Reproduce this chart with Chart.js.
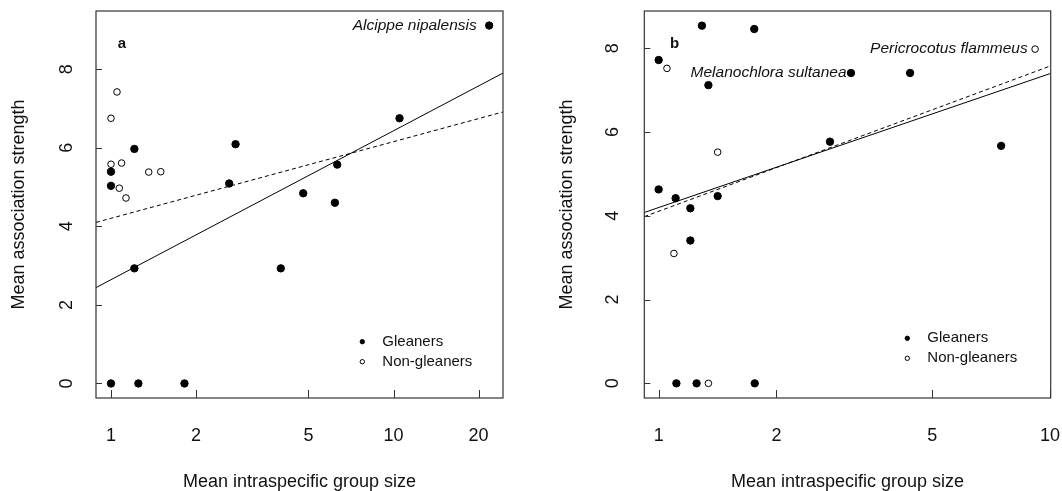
<!DOCTYPE html>
<html>
<head>
<meta charset="utf-8">
<script src="https://cdn.jsdelivr.net/npm/chart.js@4.4.1/dist/chart.umd.min.js"></script>
<style>
  body { margin: 0; background: #fff; }
  #wrap { position: relative; width: 1062px; height: 491px; }
  .panel { position: absolute; top: 0; width: 531px; height: 491px; }
</style>
</head>
<body>
<div id="wrap">
  <div class="panel" style="left:0"><canvas id="chartA" width="531" height="491"></canvas></div>
  <div class="panel" style="left:531px"><canvas id="chartB" width="531" height="491"></canvas></div>
</div>
<script>
// ---- panel a ----
const gleanersAX = [21.8, 10.5, 1.21, 2.76, 1.0, 6.32, 1.0, 2.62, 4.79, 6.20, 1.21, 3.99, 1.0, 1.25, 1.82];
const gleanersAY = [9.11, 6.75, 5.97, 6.09, 5.39, 5.57, 5.03, 5.09, 4.84, 4.60, 2.93, 2.93, 0, 0, 0];
const nonGleanersAX = [1.05, 1.0, 1.0, 1.09, 1.36, 1.50, 1.07, 1.13];
const nonGleanersAY = [7.42, 6.75, 5.58, 5.61, 5.38, 5.39, 4.97, 4.72];
const fitAX = [0.885, 24.4];
const solidAY = [2.44, 7.90];
const dashedAY = [4.10, 6.91];
const xTicksA = [1, 2, 5, 10, 20];
const labelTextA = ['Alcippe nipalensis'];
const labelXA = [19.7];
const labelYA = [9.11];

// ---- panel b ----
const gleanersBX = [1.29, 1.755, 1.0, 3.10, 4.39, 1.34, 2.74, 7.50, 1.0, 1.105, 1.415, 1.205, 1.205, 1.11, 1.25, 1.76];
const gleanersBY = [8.54, 8.46, 7.72, 7.41, 7.41, 7.12, 5.77, 5.67, 4.63, 4.42, 4.47, 4.18, 3.41, 0, 0, 0];
const nonGleanersBX = [1.05, 9.16, 1.415, 1.094, 1.34];
const nonGleanersBY = [7.52, 7.98, 5.52, 3.10, 0];
const fitBX = [0.919, 10.04];
const solidBY = [4.08, 7.40];
const dashedBY = [3.98, 7.58];
const xTicksB = [1, 2, 5, 10];
const labelTextB = ['Melanochlora sultanea', 'Pericrocotus flammeus'];
const labelXB = [3.02, 8.77];
const labelYB = [7.41, 7.98];

const yTicks = [0, 2, 4, 6, 8];
const seriesNames = ['Gleaners', 'Non-gleaners'];

const INK = '#111';
const FONT = "'Liberation Sans', Arial, sans-serif";

function pts(xs, ys) {
  return xs.map((x, i) => ({ x: x, y: ys[i] }));
}

// box, inward ticks, panel letter, species labels, legend
const framePlugin = {
  id: 'frame',
  afterDraw(chart, args, o) {
    const ctx = chart.ctx;
    const a = chart.chartArea;
    const xs = chart.scales.x, ys = chart.scales.y;
    ctx.save();
    ctx.strokeStyle = '#333';
    ctx.lineWidth = 1.2;
    ctx.strokeRect(a.left, a.top, a.right - a.left, a.bottom - a.top);
    ctx.lineWidth = 1;
    ctx.beginPath();
    xs.ticks.forEach(t => {
      const px = Math.round(xs.getPixelForValue(t.value)) + 0.5;
      ctx.moveTo(px, a.bottom);
      ctx.lineTo(px, a.bottom - 8);
    });
    ys.ticks.forEach(t => {
      const py = Math.round(ys.getPixelForValue(t.value)) + 0.5;
      ctx.moveTo(a.left, py);
      ctx.lineTo(a.left + 6, py);
    });
    ctx.stroke();

    // panel letter
    ctx.fillStyle = INK;
    ctx.font = 'bold 15px ' + FONT;
    ctx.textAlign = 'center';
    ctx.textBaseline = 'middle';
    ctx.fillText(o.letter, a.left + o.letterDx, a.top + 33);

    // species names
    ctx.font = 'italic 15.5px ' + FONT;
    ctx.textAlign = 'right';
    o.labels.forEach((txt, i) => {
      ctx.fillText(txt, xs.getPixelForValue(o.labelX[i]), ys.getPixelForValue(o.labelY[i]));
    });

    // legend
    ctx.font = '15px ' + FONT;
    ctx.textAlign = 'left';
    const lx = a.right - o.legendDx, ly = a.bottom - o.legendDy;
    chart.data.datasets.slice(0, 2).forEach((ds, i) => {
      const y = ly + i * 20;
      ctx.beginPath();
      ctx.arc(lx, y, 2.2, 0, Math.PI * 2);
      ctx.fillStyle = ds.backgroundColor;
      ctx.fill();
      ctx.strokeStyle = '#000';
      ctx.lineWidth = 1;
      ctx.stroke();
      ctx.fillStyle = INK;
      ctx.fillText(ds.label, lx + 20, y);
    });
    ctx.restore();
  }
};

function makePanel(id, cfg) {
  return new Chart(document.getElementById(id), {
    type: 'scatter',
    data: {
      datasets: [
        { label: seriesNames[0], data: pts(cfg.gx, cfg.gy), backgroundColor: '#000', borderColor: '#000',
          borderWidth: 1, pointRadius: 3.7, order: 0 },
        { label: seriesNames[1], data: pts(cfg.nx, cfg.ny), backgroundColor: '#fff', borderColor: '#000',
          borderWidth: 1, pointRadius: 3.3, order: 0 },
        { type: 'line', label: 'fit all', data: pts(cfg.fx, cfg.solid), borderColor: '#000', borderWidth: 1,
          pointRadius: 0, fill: false, order: 1 },
        { type: 'line', label: 'fit gleaners', data: pts(cfg.fx, cfg.dashed), borderColor: '#000', borderWidth: 1,
          borderDash: [4, 3], pointRadius: 0, fill: false, order: 1 }
      ]
    },
    options: {
      responsive: false,
      animation: false,
      layout: { padding: { top: 11, right: cfg.padRight, left: 0, bottom: 0 } },
      plugins: {
        legend: { display: false },
        tooltip: { enabled: false },
        frame: cfg.frame
      },
      scales: {
        x: {
          type: 'logarithmic',
          min: cfg.fx[0], max: cfg.fx[1],
          afterBuildTicks: s => { s.ticks = cfg.xTicks.map(v => ({ value: v })); },
          afterFit: s => { s.height = 93; s.paddingLeft = 0; s.paddingRight = 0; },
          grid: { display: false, drawTicks: false },
          border: { display: false },
          ticks: { callback: v => String(v), autoSkip: false, maxRotation: 0, padding: 27,
                   color: INK, font: { family: FONT, size: 18 } },
          title: { display: true, text: 'Mean intraspecific group size', color: INK,
                   font: { family: FONT, size: 18, lineHeight: 1 }, padding: { top: 0, bottom: 0 } }
        },
        y: {
          min: cfg.ymin, max: cfg.ymax,
          afterBuildTicks: s => { s.ticks = yTicks.map(v => ({ value: v })); },
          afterFit: s => { s.width = cfg.yWidth; s.paddingTop = 0; s.paddingBottom = 0; },
          grid: { display: false, drawTicks: false },
          border: { display: false },
          ticks: { minRotation: 90, maxRotation: 90, crossAlign: 'center', padding: cfg.yTickPad,
                   color: INK, font: { family: FONT, size: 18 } },
          title: { display: true, text: 'Mean association strength', color: INK,
                   font: { family: FONT, size: 18, lineHeight: 1 }, padding: { top: cfg.yTitlePad, bottom: 0 } }
        }
      }
    },
    plugins: [framePlugin]
  });
}

makePanel('chartA', {
  gx: gleanersAX, gy: gleanersAY, nx: nonGleanersAX, ny: nonGleanersAY,
  fx: fitAX, solid: solidAY, dashed: dashedAY, xTicks: xTicksA,
  ymin: -0.37, ymax: 9.48, yWidth: 96, padRight: 28, yTickPad: 23.5, yTitlePad: 10.5,
  frame: { letter: 'a', letterDx: 26, labels: labelTextA, labelX: labelXA, labelY: labelYA,
           legendDx: 140.7, legendDy: 56.3 }
});

makePanel('chartB', {
  gx: gleanersBX, gy: gleanersBY, nx: nonGleanersBX, ny: nonGleanersBY,
  fx: fitBX, solid: solidBY, dashed: dashedBY, xTicks: xTicksB,
  ymin: -0.35, ymax: 8.89, yWidth: 113.3, padRight: 11.3, yTickPad: 26.3, yTitlePad: 27,
  frame: { letter: 'b', letterDx: 30.2, labels: labelTextB, labelX: labelXB, labelY: labelYB,
           legendDx: 143.4, legendDy: 59.7 }
});
</script>
</body>
</html>
